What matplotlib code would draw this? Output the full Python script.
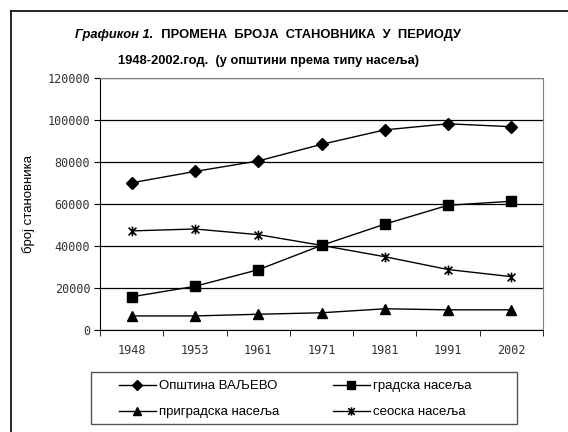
import matplotlib.pyplot as plt
from matplotlib.path import Path
from matplotlib.lines import Line2D
from matplotlib.patches import Rectangle
import numpy as np

years = ['1948', '1953', '1961', '1971', '1981', '1991', '2002']
opstina = [70100, 75500, 80500, 88400, 95300, 98200, 96800]
gradska = [15800, 20800, 28700, 40300, 50400, 59400, 61300]
prigradska = [6700, 6700, 7500, 8200, 10100, 9600, 9600]
seoska = [47200, 48100, 45400, 40300, 34900, 28800, 25400]
labels = ['Општина ВАЉЕВО', 'градска насеља', 'приградска насеља', 'сеоска насеља']

sans = ['Liberation Sans', 'DejaVu Sans']
mono = 'DejaVu Sans Mono'
W, H = 568, 432

# asterisk marker: x plus a vertical bar
star = Path([(-1, -1), (1, 1), (-1, 1), (1, -1), (0, -1.25), (0, 1.25)],
            [Path.MOVETO, Path.LINETO, Path.MOVETO, Path.LINETO, Path.MOVETO, Path.LINETO])

fig = plt.figure(figsize=(W / 100, H / 100), dpi=100)
ax = fig.add_axes([100 / W, 1 - 330 / H, 443 / W, 252 / H])

x = np.arange(len(years))
l1, = ax.plot(x, opstina, color='black', lw=1, marker='D', ms=6.5)
l2, = ax.plot(x, gradska, color='black', lw=1, marker='s', ms=7)
l3, = ax.plot(x, prigradska, color='black', lw=1, marker='^', ms=7.5)
l4, = ax.plot(x, seoska, color='black', lw=1, marker=star, ms=7, mfc='none', mew=1.2)

ax.set_xlim(-0.5, len(years) - 0.5)
ax.set_ylim(0, 120000)
ax.set_yticks(np.arange(0, 120001, 20000))
ax.set_yticklabels([str(v) for v in range(0, 120001, 20000)], fontfamily=mono, fontsize=8.5, color='#333333')
ax.set_xticks(x)
ax.set_xticklabels(years, fontfamily=mono, fontsize=8.5, color='#333333')
ax.set_xticks(np.arange(-0.5, len(years), 1), minor=True)
ax.tick_params(axis='x', which='major', length=0, pad=10)
ax.tick_params(axis='x', which='minor', length=4, color='black')
ax.tick_params(axis='y', length=4, color='black', pad=3)
ax.yaxis.grid(True, color='black', lw=0.9)
ax.set_axisbelow(True)
for s in ['top', 'right']:
    ax.spines[s].set_color('#808080')
for s in ['left', 'bottom']:
    ax.spines[s].set_color('black')

ax.set_ylabel('број становника', fontfamily=sans, fontsize=9.5, labelpad=9)

# title: italic lead-in followed by bold text, centred as one line
renderer = fig.canvas.get_renderer()
p1 = fig.text(0, 1 - 35 / H, 'Графикон 1.', ha='left', va='center', fontfamily=sans,
              fontweight='bold', fontstyle='italic', fontsize=9.3)
p2 = fig.text(0, 1 - 35 / H, '  ПРОМЕНА  БРОЈА  СТАНОВНИКА  У  ПЕРИОДУ', ha='left', va='center',
              fontfamily=sans, fontweight='bold', fontsize=9.3)
w1 = p1.get_window_extent(renderer).width
w2 = p2.get_window_extent(renderer).width
start = 268 - (w1 + w2) / 2
p1.set_x(start / W)
p2.set_x((start + w1) / W)
fig.text(268 / W, 1 - 61 / H, '1948-2002.год.  (у општини према типу насеља)',
         ha='center', va='center', fontfamily=sans, fontweight='bold', fontsize=9.3)

# legend: box drawn by hand, one frameless legend per column
fig.add_artist(Rectangle((91 / W, 1 - 424 / H), 426 / W, 52 / H, transform=fig.transFigure,
                         fill=False, edgecolor='#555555', lw=1))
opts = dict(loc='upper left', frameon=False, prop={'family': sans, 'size': 9.5},
            handlelength=2.8, borderpad=0, labelspacing=1.05, handletextpad=0.2,
            borderaxespad=0, markerscale=0.85)
fig.legend([l1, l3], [labels[0], labels[2]], bbox_to_anchor=(119 / W, 1 - 380 / H), **opts)
fig.legend([l2, l4], [labels[1], labels[3]], bbox_to_anchor=(333 / W, 1 - 380 / H), **opts)

# outer border
fig.add_artist(Line2D([11 / W, 11 / W], [0, 1 - 11 / H], color='black', lw=1.2, transform=fig.transFigure))
fig.add_artist(Line2D([11 / W, 1], [1 - 11 / H, 1 - 11 / H], color='black', lw=1.2, transform=fig.transFigure))

fig.savefig('out.png', dpi=100)
